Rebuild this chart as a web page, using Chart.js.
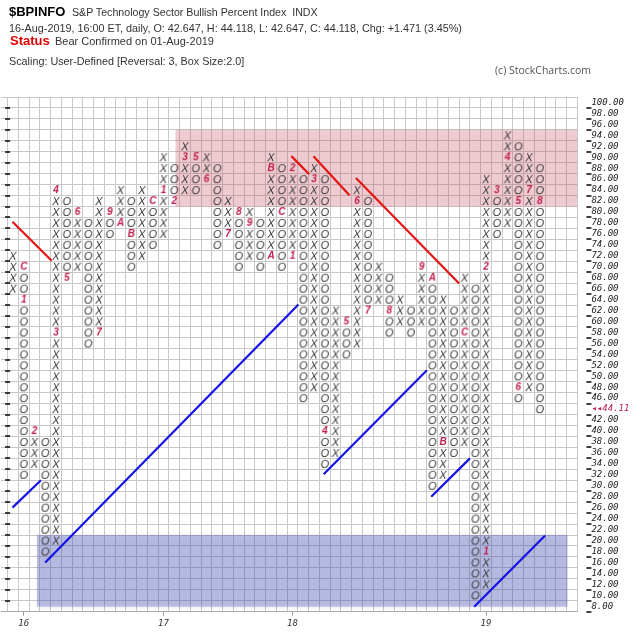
<!DOCTYPE html>
<html>
<head>
<meta charset="utf-8">
<script src="https://cdn.jsdelivr.net/npm/chart.js@4.4.1/dist/chart.umd.min.js"></script>
<style>
  html, body { margin: 0; padding: 0; background: #fff; }
  #wrap { position: relative; width: 640px; height: 635px; overflow: hidden; font-family: "Liberation Sans", Arial, sans-serif; }
  #pf { position: absolute; left: 0; top: 0; }
  .t { position: absolute; white-space: nowrap; line-height: 1; color: #333; }
</style>
</head>
<body>
<div id="wrap">
  <canvas id="pf" width="640" height="635"></canvas>
  <div class="t" style="left:9px;top:5px;font-size:13px;font-weight:bold;color:#000">$BPINFO</div>
  <div class="t" style="left:72px;top:7px;font-size:10.65px">S&amp;P Technology Sector Bullish Percent Index&nbsp; INDX</div>
  <div class="t" style="left:9px;top:23px;font-size:10.8px">16-Aug-2019, 16:00 ET, daily, O: 42.647, H: 44.118, L: 42.647, C: 44.118, Chg: +1.471 (3.45%)</div>
  <div class="t" style="left:10px;top:34px;font-size:13px;font-weight:bold;color:#e00000">Status</div>
  <div class="t" style="left:55px;top:36px;font-size:11px">Bear Confirmed on 01-Aug-2019</div>
  <div class="t" style="left:9px;top:56px;font-size:10.8px">Scaling: User-Defined [Reversal: 3, Box Size:2.0]</div>
  <div class="t" style="left:495px;top:65px;font-size:10.5px;font-family:'Open Sans',sans-serif;color:#555">(c) StockCharts.com</div>
</div>
<script>
// Point & Figure: box size 2, 3-box reversal, columns alternate starting with X
const boxSize = 2;
const firstColType = 'X';
const colLow  = [66, 32, 34, 18, 20, 68, 70, 56, 58, 76,
                 78, 70, 72, 74, 76, 82, 84, 84, 86, 74,
                 76, 70, 72, 70, 72, 70, 72, 46, 48, 34,
                 36, 54, 56, 62, 64, 58, 60, 58, 60, 30,
                 32, 36, 38, 10, 12, 76, 78, 46, 48, 44];
const colHigh = [72, 70, 40, 38, 84, 82, 80, 78, 82, 80,
                 84, 82, 84, 82, 90, 88, 92, 90, 90, 88,
                 82, 80, 80, 78, 90, 88, 88, 86, 88, 86,
                 62, 60, 84, 82, 70, 68, 64, 62, 70, 68,
                 64, 62, 68, 66, 86, 84, 94, 92, 90, 88];

// month markers (1-9, A=Oct, B=Nov, C=Dec) replace the box they fall on
const monthCols   = [1, 1, 2, 4, 4, 5, 6, 8, 9, 10, 11, 13, 14, 15, 16, 17, 18, 20, 21, 22,
                     24, 24, 25, 26, 26, 28, 29, 31, 32, 33, 35, 38, 39, 40, 42, 44, 44, 45, 46, 47, 47, 48, 49];
const monthValues = [70, 64, 40, 58, 84, 68, 80, 58, 80, 78, 76, 82, 84, 82, 90, 90, 86, 76, 80, 78,
                     72, 88, 80, 72, 88, 86, 40, 60, 82, 62, 62, 70, 68, 38, 58, 18, 70, 84, 90, 82, 48, 84, 82];
const monthTexts  = ['C', '1', '2', '3', '4', '5', '6', '7', '9', 'A', 'B', 'C', '1', '2', '3', '5', '6', '7', '8', '9',
                     'A', 'B', 'C', '1', '2', '3', '4', '5', '6', '7', '8', '9', 'A', 'B', 'C', '1', '2', '3', '4', '5', '6', '7', '8'];

const yearCols  = [1, 14, 26, 44];
const yearTexts = ['16', '17', '18', '19'];

const lastBox = 44;
const lastLabel = '\u25C2\u25C244.11';

// trend lines [x1, v1, x2, v2] in column / value units
const redTrends  = [[0.45, 78.2, 4.1, 71.1], [26.4, 90.2, 28.05, 86.9], [28.45, 90.2, 31.8, 83.05], [32.4, 86.2, 42.0, 66.95]];
const blueTrends = [[0.45, 26, 3.1, 31], [3.5, 16, 27.05, 63.1], [29.4, 32.1, 39, 51.1], [39.4, 28, 43, 35], [43.4, 7.9, 50, 20.9]];

// shaded zones [fromCol, toCol, low, high]
const resistZone = [15.6, 53, 81, 95];
const supportZone = [2.7, 52.1, 7.9, 21];

const yMin = 7, yMax = 101;
const xMin = -0.614, xMax = 53;

function glyph(text, font, color) {
    const cv = document.createElement('canvas');
    cv.width = 12; cv.height = 12;
    const g = cv.getContext('2d');
    g.font = font;
    g.fillStyle = color;
    g.textAlign = 'center';
    g.textBaseline = 'middle';
    g.fillText(text, 6, 6.5);
    return cv;
}

const boxFont = 'italic 11px "Liberation Sans", Arial, sans-serif';
const monthFont = 'italic bold 10px "Liberation Sans", Arial, sans-serif';
const xGlyph = glyph('X', boxFont, '#333');
const oGlyph = glyph('O', boxFont, '#333');
const monthGlyphs = monthTexts.map(t => glyph(t, monthFont, '#c0204e'));

// build boxes
const monthAt = {};
monthCols.forEach((c, i) => { monthAt[c + ':' + monthValues[i]] = true; });
const xBoxes = [], oBoxes = [];
colLow.forEach((lo, c) => {
    const isX = (c % 2 === 0) === (firstColType === 'X');
    for (let v = lo; v <= colHigh[c]; v += boxSize) {
        if (monthAt[c + ':' + v]) continue;
        (isX ? xBoxes : oBoxes).push({ x: c + 0.5, y: v });
    }
});
const monthPts = monthCols.map((c, i) => ({ x: c + 0.5, y: monthValues[i] }));

function zoneDataset(z, color) {
    return {
        type: 'line', data: [{ x: z[0], y: z[3] }, { x: z[1], y: z[3] }],
        fill: { value: z[2] }, backgroundColor: color, borderWidth: 0,
        pointRadius: 0, order: 10
    };
}
function trendDataset(t, color) {
    return {
        type: 'line', data: [{ x: t[0], y: t[1] }, { x: t[2], y: t[3] }],
        borderColor: color, borderWidth: 2.2, pointRadius: 0, fill: false, order: 1
    };
}

// soft edge round the two shaded zones (datasets 0 and 1)
const zoneShadow = {
    id: 'zoneShadow',
    beforeDatasetsDraw(chart) {
        chart.ctx.save();
        chart.ctx.shadowColor = 'rgba(60, 60, 80, 0.35)';
        chart.ctx.shadowBlur = 5;
    },
    afterDatasetDraw(chart, args) {
        if (args.index === 1) chart.ctx.restore();
    }
};

const axisMarks = {
    id: 'axisMarks',
    afterDraw(chart) {
        const { ctx, scales: { x, y } } = chart;
        const left = x.getPixelForValue(0);
        const right = chart.chartArea.right;
        ctx.save();
        ctx.strokeStyle = '#111';
        ctx.lineWidth = 1.6;
        for (let v = yMin; v < yMax - 1; v += boxSize) {
            const py = Math.round(y.getPixelForValue(v));
            if (v > yMin) {
                ctx.beginPath(); ctx.moveTo(left - 2.5, py); ctx.lineTo(left + 2.5, py); ctx.stroke();
            }
            ctx.beginPath(); ctx.moveTo(right + 9, py); ctx.lineTo(right + 14, py); ctx.stroke();
        }
        ctx.restore();
    }
};

// keep horizontal axes from reserving side padding for their labels
function noSidePadding(s) {
    s.paddingLeft = 0;
    s.paddingRight = 0;
}

const gridColor = '#c8c8c8';
const labelFont = { family: '"DejaVu Sans Mono", monospace', size: 9, style: 'italic' };

new Chart(document.getElementById('pf'), {
    type: 'scatter',
    data: {
        datasets: [
            zoneDataset(resistZone, 'rgba(195, 70, 85, 0.28)'),
            zoneDataset(supportZone, 'rgba(70, 80, 195, 0.32)'),
            { data: xBoxes, pointStyle: xGlyph, pointRadius: 6, order: 5 },
            { data: oBoxes, pointStyle: oGlyph, pointRadius: 6, order: 5 },
            { data: monthPts, pointStyle: ctx => monthGlyphs[ctx.dataIndex], pointRadius: 6, order: 4 },
            ...redTrends.map(t => trendDataset(t, '#e41414')),
            ...blueTrends.map(t => trendDataset(t, '#1414e6'))
        ]
    },
    options: {
        responsive: false,
        animation: false,
        events: [],
        layout: { autoPadding: false, padding: { top: 97, left: 0, right: 0, bottom: 0 } },
        plugins: { legend: { display: false }, tooltip: { enabled: false } },
        scales: {
            x: {
                type: 'linear', min: xMin, max: xMax, position: 'bottom',
                afterBuildTicks: s => {
                    const t = [];
                    for (let i = 0; i <= xMax; i++) t.push({ value: i });
                    s.ticks = t;
                },
                ticks: { display: false },
                grid: { color: gridColor, drawTicks: false },
                border: { display: false },
                afterFit: s => { s.height = 0; noSidePadding(s); }
            },
            x2: {
                type: 'linear', min: xMin, max: xMax, position: 'bottom',
                afterBuildTicks: s => { s.ticks = yearCols.map(c => ({ value: c + 0.5 })); },
                ticks: {
                    callback: (v, i) => yearTexts[i],
                    font: labelFont, color: '#333', padding: 3, autoSkip: false, maxRotation: 0
                },
                grid: { drawOnChartArea: false, tickLength: 4, color: '#999' },
                border: { color: '#aaa' },
                afterFit: s => { s.height = 23.3; noSidePadding(s); }
            },
            y: {
                type: 'linear', min: yMin, max: yMax, position: 'left',
                afterBuildTicks: s => {
                    const t = [];
                    for (let v = yMin; v <= yMax; v += boxSize) t.push({ value: v });
                    s.ticks = t;
                },
                ticks: { display: false },
                grid: { color: gridColor, drawTicks: false },
                border: { display: false },
                afterFit: s => { s.width = 1; }
            },
            y2: {
                type: 'linear', min: yMin, max: yMax, position: 'right',
                afterBuildTicks: s => {
                    const t = [];
                    for (let v = yMin + 1; v < yMax; v += boxSize) t.push({ value: v });
                    s.ticks = t;
                },
                ticks: {
                    callback: v => v === lastBox ? lastLabel : v.toFixed(2),
                    color: ctx => ctx.tick && ctx.tick.value === lastBox ? '#c0204e' : '#222',
                    font: labelFont, padding: 14, autoSkip: false
                },
                grid: { drawOnChartArea: false, drawTicks: false },
                border: { display: false },
                afterFit: s => { s.width = 62.6; }
            }
        }
    },
    plugins: [zoneShadow, axisMarks]
});
</script>
</body>
</html>
